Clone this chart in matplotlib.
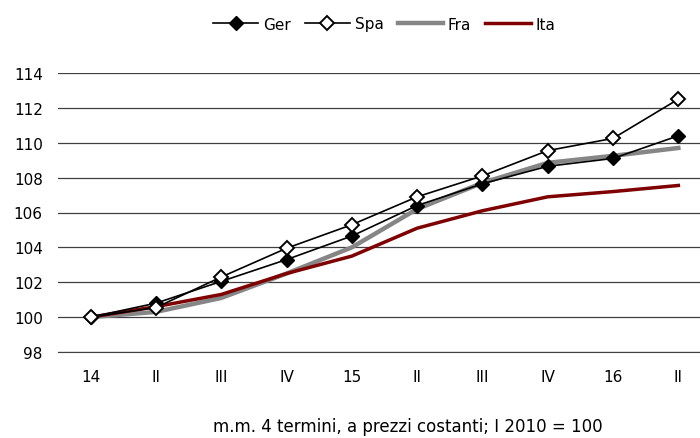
import matplotlib.pyplot as plt

periods = ['14', 'II', 'III', 'IV', '15', 'II', 'III', 'IV', '16', 'II']
ger = [100.0, 100.8, 102.05, 103.3, 104.65, 106.4, 107.65, 108.65, 109.1, 110.4]
spa = [100.0, 100.55, 102.3, 103.95, 105.3, 106.9, 108.1, 109.55, 110.25, 112.5]
fra = [100.0, 100.3, 101.1, 102.5, 104.0, 106.2, 107.7, 108.85, 109.25, 109.7]
ita = [100.0, 100.6, 101.3, 102.5, 103.5, 105.1, 106.1, 106.9, 107.2, 107.55]
yticks = [98, 100, 102, 104, 106, 108, 110, 112, 114]

plt.rcParams['font.family'] = ['DejaVu Sans']

fig = plt.figure(figsize=(7, 4.39), dpi=100)
ax = fig.add_axes([58/700, 1 - 353/439, (711-58)/700, (353-74)/439])

x = list(range(len(periods)))
ax.plot(x, ger, color='black', lw=1.2, marker='D', ms=7, mfc='black', mec='black', label='Ger', zorder=4)
ax.plot(x, spa, color='black', lw=1.2, marker='D', ms=7, mfc='white', mec='black', mew=1.4, label='Spa', zorder=5)
ax.plot(x, fra, color='#868686', lw=3.2, label='Fra', zorder=3)
ax.plot(x, ita, color='#7f0000', lw=2.5, label='Ita', zorder=3)

ax.set_xlim(-0.5, len(periods) - 0.5)
ax.set_ylim(98, 114)
ax.set_yticks(yticks)
ax.set_xticks(x)
ax.set_xticklabels(periods)
ax.tick_params(axis='both', length=0, labelsize=11)
ax.tick_params(axis='x', pad=12.5)
ax.tick_params(axis='y', pad=11)
ax.yaxis.grid(True, color='#404040', lw=0.9)
ax.set_axisbelow(True)
for s in ['left', 'right', 'top']:
    ax.spines[s].set_visible(False)
ax.spines['bottom'].set_color('#404040')

fig.legend(loc='center', bbox_to_anchor=(384/700, 1 - 25/439), ncol=4, frameon=False,
           fontsize=11, handlelength=3.0, columnspacing=0.9, handletextpad=0.3)
fig.text(408/700, 1 - 427/439, 'm.m. 4 termini, a prezzi costanti; I 2010 = 100',
         ha='center', va='center', fontsize=12)

fig.savefig('out.png', dpi=100)
